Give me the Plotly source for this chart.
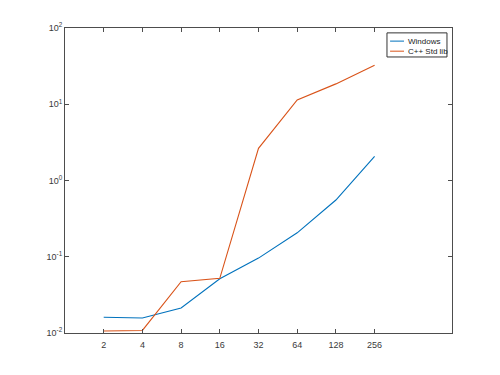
import plotly.graph_objects as go
import math

sizes = [2, 4, 8, 16, 32, 64, 128, 256]
windows = [0.0161, 0.0157, 0.0213, 0.0515, 0.096, 0.206, 0.555, 2.07]
cpp_stdlib = [0.0106, 0.0108, 0.0471, 0.0521, 2.64, 11.4, 18.5, 32.4]
series_names = ["Windows", "C++ Std lib"]
series_colors = ["#0072BD", "#D95319"]
x_ticks = [2, 4, 8, 16, 32, 64, 128, 256]
y_ticks = [0.01, 0.1, 1, 10, 100]
y_ticktext = ["10<sup>-2</sup>", "10<sup>-1</sup>", "10<sup>0</sup>", "10<sup>1</sup>", "10<sup>2</sup>"]

axis_color = "#4d4d4d"
fam = "Liberation Sans, Arial, sans-serif"
font = dict(family=fam, size=9, color="#3a3a3a")

fig = go.Figure()
for name, ys, col in zip(series_names, [windows, cpp_stdlib], series_colors):
    fig.add_trace(go.Scatter(x=sizes, y=ys, mode="lines", name=name,
                             line=dict(color=col, width=1.1)))

# compact MATLAB-style legend
shapes = [dict(type="rect", xref="paper", yref="paper", x0=0.832, x1=0.987, y0=0.905, y1=0.984,
               line=dict(color="#333333", width=1), fillcolor="white", layer="above")]
annotations = []
for i, (name, col) in enumerate(zip(series_names, series_colors)):
    yy = 0.957 - i * 0.033
    shapes.append(dict(type="line", xref="paper", yref="paper", x0=0.840, x1=0.876, y0=yy, y1=yy,
                       line=dict(color=col, width=1), layer="above"))
    annotations.append(dict(xref="paper", yref="paper", x=0.881, y=yy, text=name, showarrow=False,
                            xanchor="left", yanchor="middle",
                            font=dict(family=fam, size=8, color="#222222")))

fig.update_layout(
    width=500, height=375,
    margin=dict(l=57, r=56, t=20, b=50),
    paper_bgcolor="white", plot_bgcolor="white",
    font=font,
    showlegend=False,
    shapes=shapes, annotations=annotations,
)
fig.update_xaxes(type="log", range=[0, math.log10(1024)],
                 tickvals=x_ticks, ticktext=[str(v) for v in x_ticks],
                 ticks="inside", ticklen=4, tickcolor=axis_color, tickwidth=1,
                 ticklabelstandoff=3,
                 showline=True, linecolor=axis_color, linewidth=1, mirror="ticks",
                 showgrid=False, zeroline=False)
fig.update_yaxes(type="log", range=[-2, 2],
                 tickvals=y_ticks, ticktext=y_ticktext,
                 ticks="inside", ticklen=4, tickcolor=axis_color, tickwidth=1,
                 showline=True, linecolor=axis_color, linewidth=1, mirror="ticks",
                 showgrid=False, zeroline=False)

fig.write_html("out.html")
